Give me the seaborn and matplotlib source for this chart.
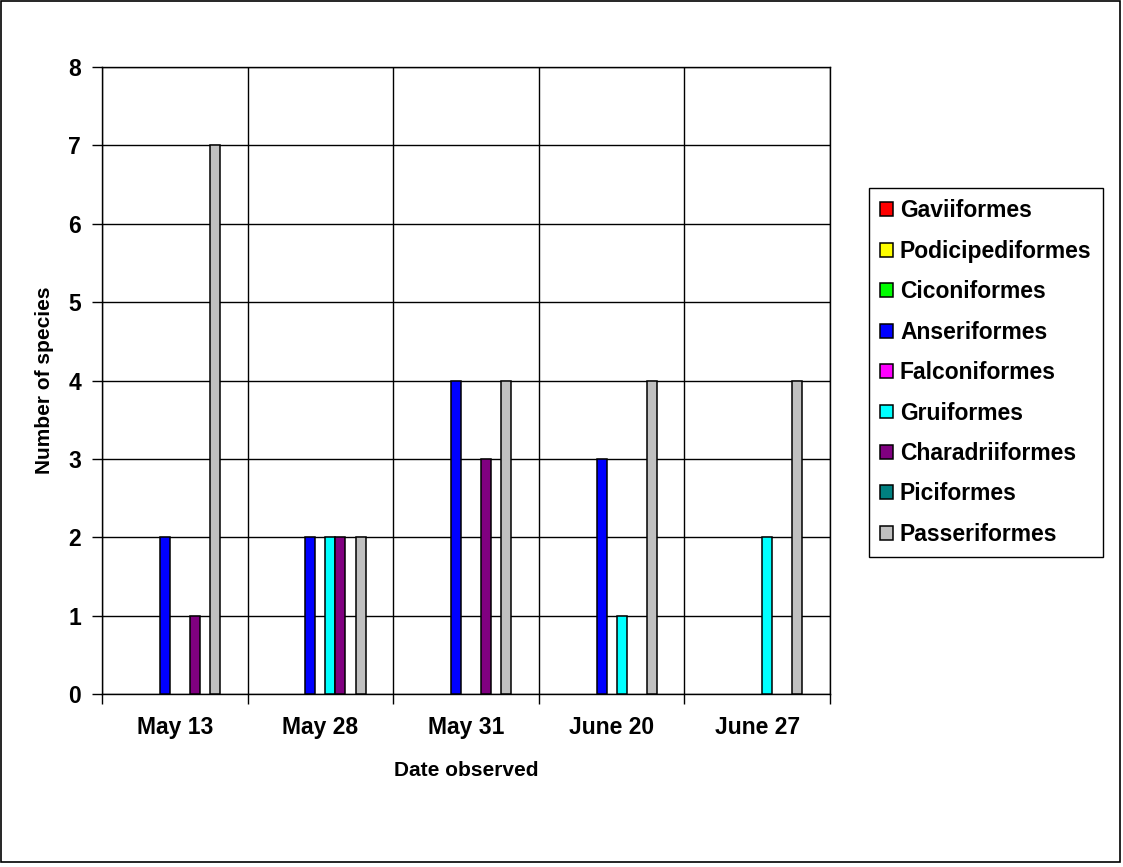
import matplotlib
matplotlib.use("Agg")
import matplotlib.pyplot as plt
import matplotlib.patches as mpatches
import pandas as pd
import seaborn as sns

# Observation dates (categories)
dates = ["May 13", "May 28", "May 31", "June 20", "June 27"]

# Bird orders (series)
orders = ["Gaviiformes", "Podicipediformes", "Ciconiformes", "Anseriformes",
          "Falconiformes", "Gruiformes", "Charadriiformes", "Piciformes",
          "Passeriformes"]

# Number of species per order on each date
gaviiformes      = [0, 0, 0, 0, 0]
podicipediformes = [0, 0, 0, 0, 0]
ciconiformes     = [0, 0, 0, 0, 0]
anseriformes     = [2, 2, 4, 3, 0]
falconiformes    = [0, 0, 0, 0, 0]
gruiformes       = [0, 2, 0, 1, 2]
charadriiformes  = [1, 2, 3, 0, 0]
piciformes       = [0, 0, 0, 0, 0]
passeriformes    = [7, 2, 4, 4, 4]

colors = ["#FF0000", "#FFFF00", "#00FF00", "#0000FF", "#FF00FF",
          "#00FFFF", "#800080", "#008080", "#C0C0C0"]

series = [gaviiformes, podicipediformes, ciconiformes, anseriformes,
          falconiformes, gruiformes, charadriiformes, piciformes,
          passeriformes]

rows = []
for name, vals in zip(orders, series):
    for d, v in zip(dates, vals):
        rows.append({"date": d, "order": name, "count": v})
df = pd.DataFrame(rows)

sns.set_style("white")
plt.rcParams["font.family"] = ["Liberation Sans", "DejaVu Sans"]
plt.rcParams["font.weight"] = "bold"
plt.rcParams["text.color"] = "black"
plt.rcParams["axes.labelcolor"] = "black"
plt.rcParams["xtick.color"] = "black"
plt.rcParams["ytick.color"] = "black"

fig = plt.figure(figsize=(11.23, 8.67), dpi=100)
ax = fig.add_axes([102 / 1123, 1 - 694 / 867, (830 - 102) / 1123, (694 - 67) / 867])

sns.barplot(data=df, x="date", y="count", hue="order", order=dates,
            hue_order=orders, palette=colors, width=0.62, gap=0,
            edgecolor="black", linewidth=1.1, saturation=1,
            legend=False, ax=ax, zorder=3)

# Hide empty bars so only observed orders appear
for p in ax.patches:
    if p.get_height() == 0:
        p.set_visible(False)

ax.set_ylim(0, 8)
ax.set_xlim(-0.5, len(dates) - 0.5)
ax.set_yticks(range(0, 9))

# Category labels centred, tick marks and grid at group boundaries
ax.set_xticks(range(len(dates)))
ax.set_xticklabels(dates, fontsize=16.5, fontweight="bold")
ax.set_xticks([i - 0.5 for i in range(len(dates) + 1)], minor=True)
ax.tick_params(axis="x", which="major", length=0, pad=16)
ax.tick_params(axis="x", which="minor", length=7, width=1, color="black",
               direction="out", bottom=True)
ax.tick_params(axis="y", length=7, width=1, color="black", direction="out",
               left=True, labelsize=16.5, pad=8)
for lbl in ax.get_yticklabels():
    lbl.set_fontweight("bold")

ax.grid(axis="y", which="major", color="black", linewidth=1, zorder=0)
ax.grid(axis="x", which="minor", color="black", linewidth=1, zorder=0)
ax.grid(axis="x", which="major", visible=False)
ax.set_axisbelow(True)

for s in ax.spines.values():
    s.set_visible(True)
    s.set_color("black")
    s.set_linewidth(1)

ax.set_xlabel("Date observed", fontsize=15, fontweight="bold", labelpad=16)
ax.set_ylabel("Number of species", fontsize=15, fontweight="bold", labelpad=10)

handles = [mpatches.Patch(facecolor=c, edgecolor="black", linewidth=1.1)
           for c in colors]
leg = fig.legend(handles, orders, loc="upper left",
                 bbox_to_anchor=(869 / 1123, 1 - 188 / 867),
                 prop={"size": 16.5, "weight": "bold"},
                 frameon=True, fancybox=False, edgecolor="black",
                 framealpha=1, handlelength=0.55, handleheight=0.55,
                 handletextpad=0.3, labelspacing=0.76, borderpad=0.5,
                 borderaxespad=0)
leg.get_frame().set_linewidth(1)

# Chart area outline
fig.patches.append(mpatches.Rectangle((0.001, 0.006), 0.996, 0.993,
                                      transform=fig.transFigure,
                                      fill=False, edgecolor="black",
                                      linewidth=1.2))

fig.savefig("out.png", dpi=100)
